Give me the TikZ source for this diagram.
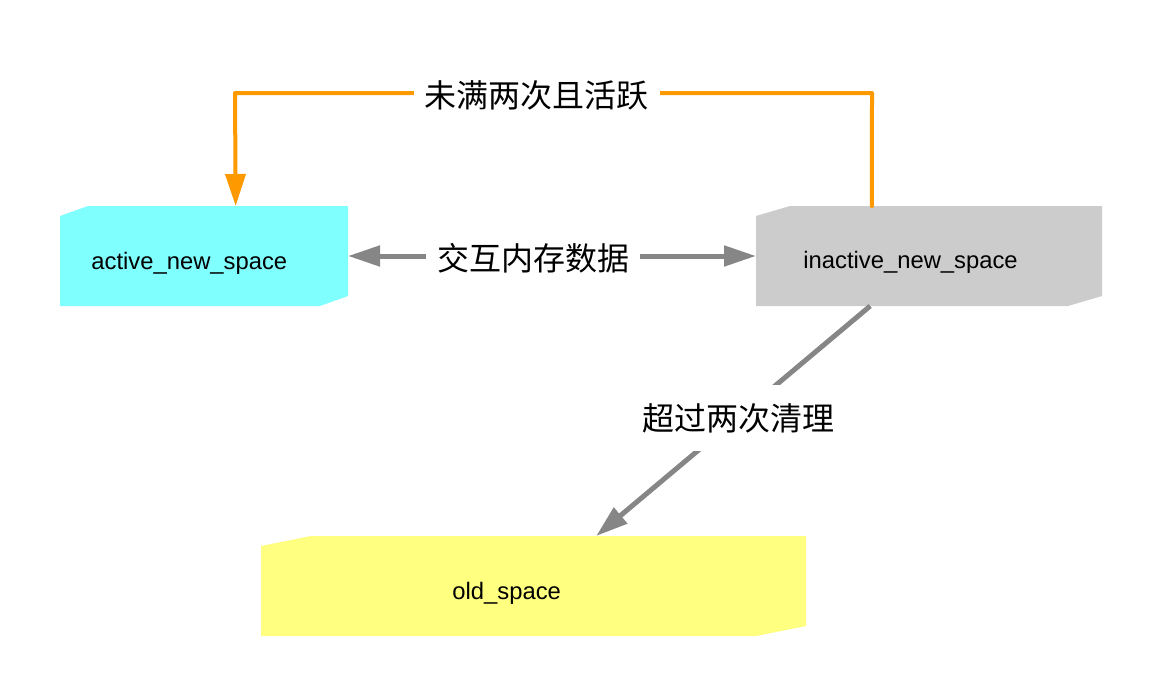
\documentclass[tikz,border=0pt]{standalone}
\usepackage{fontspec}
\setmainfont{Liberation Sans}
\newfontfamily\cjk{Noto Sans CJK SC}
\usepackage{tikz}
\usetikzlibrary{calc,arrows.meta}
\definecolor{actfill}{HTML}{80FFFF}
\definecolor{inactfill}{HTML}{CCCCCC}
\definecolor{oldfill}{HTML}{FFFF80}
\definecolor{keeporange}{HTML}{FF9900}
\definecolor{movegray}{HTML}{868686}
\tikzset{
        spacebox/.style={inner sep=0pt, outer sep=0pt, minimum height=50pt},
        spacetext/.style={anchor=base west, inner sep=0pt, font=\fontsize{11.9}{14}\selectfont},
        edgelabel/.style={fill=white, inner xsep=5.5pt, inner ysep=9pt, font=\cjk\fontsize{16}{19}\selectfont},
        keepline/.style={keeporange, line width=2pt, line cap=round, line join=round,
            -{Triangle[length=16pt,width=10pt]}},
        moveline/.style={movegray, line width=2.5pt,
            {Triangle[length=16pt,width=10pt]}-{Triangle[length=16pt,width=10pt]}},
        movearrow/.style={movegray, line width=2.5pt, -{Triangle[length=16pt,width=10pt]}}
    }
% chamfered fill: node, colour, chamfer width
\newcommand{\chamfill}[3]{
  \fill[#2] ($(#1.north west)+(0,10)$) -- ($(#1.north west)+(#3,0)$) -- (#1.north east)
    -- ($(#1.south east)+(0,-10)$) -- ($(#1.south east)+(-#3,0)$) -- (#1.south west) -- cycle;
}

\begin{document}
\begin{tikzpicture}[x=0.5pt,y=-0.5pt]
\useasboundingbox (0,0) rectangle (1162,696);

\draw (204,256) node(ACT)[spacebox,minimum width=144pt]{};
\draw (929,256) node(INACT)[spacebox,minimum width=173pt]{};
\draw (533.5,586) node(OLD)[spacebox,minimum width=272.5pt]{};

\chamfill{ACT}{actfill}{28}
\chamfill{INACT}{inactfill}{34}
\chamfill{OLD}{oldfill}{50}

\draw (91,269) node(ACTTXT)[spacetext]{active\_new\_space};
\draw (803,268) node(INACTTXT)[spacetext]{inactive\_new\_space};
\draw (452,599) node(OLDTXT)[spacetext]{old\_space};

\coordinate (TOPR) at (872,93);
\coordinate (TOPL) at (235,93);

\draw[keepline] ($(INACT.north west)!0.335!(INACT.north east)$) -- (TOPR) -- (TOPL)
    -- ($(ACT.north west)!0.61!(ACT.north east)$);
\draw[moveline] (ACT.east) -- (INACT.west);
\draw[movearrow] ($(INACT.south west)!0.33!(INACT.south east)$)
    -- ($(OLD.north west)!0.615!(OLD.north east)$);

\draw (536.5,95) node(KEEP)[edgelabel]{未满两次且活跃};
\draw (533,258) node(SWAP)[edgelabel]{交互内存数据};
\draw (738,418) node(MOVE)[edgelabel]{超过两次清理};

\end{tikzpicture}
\end{document}
